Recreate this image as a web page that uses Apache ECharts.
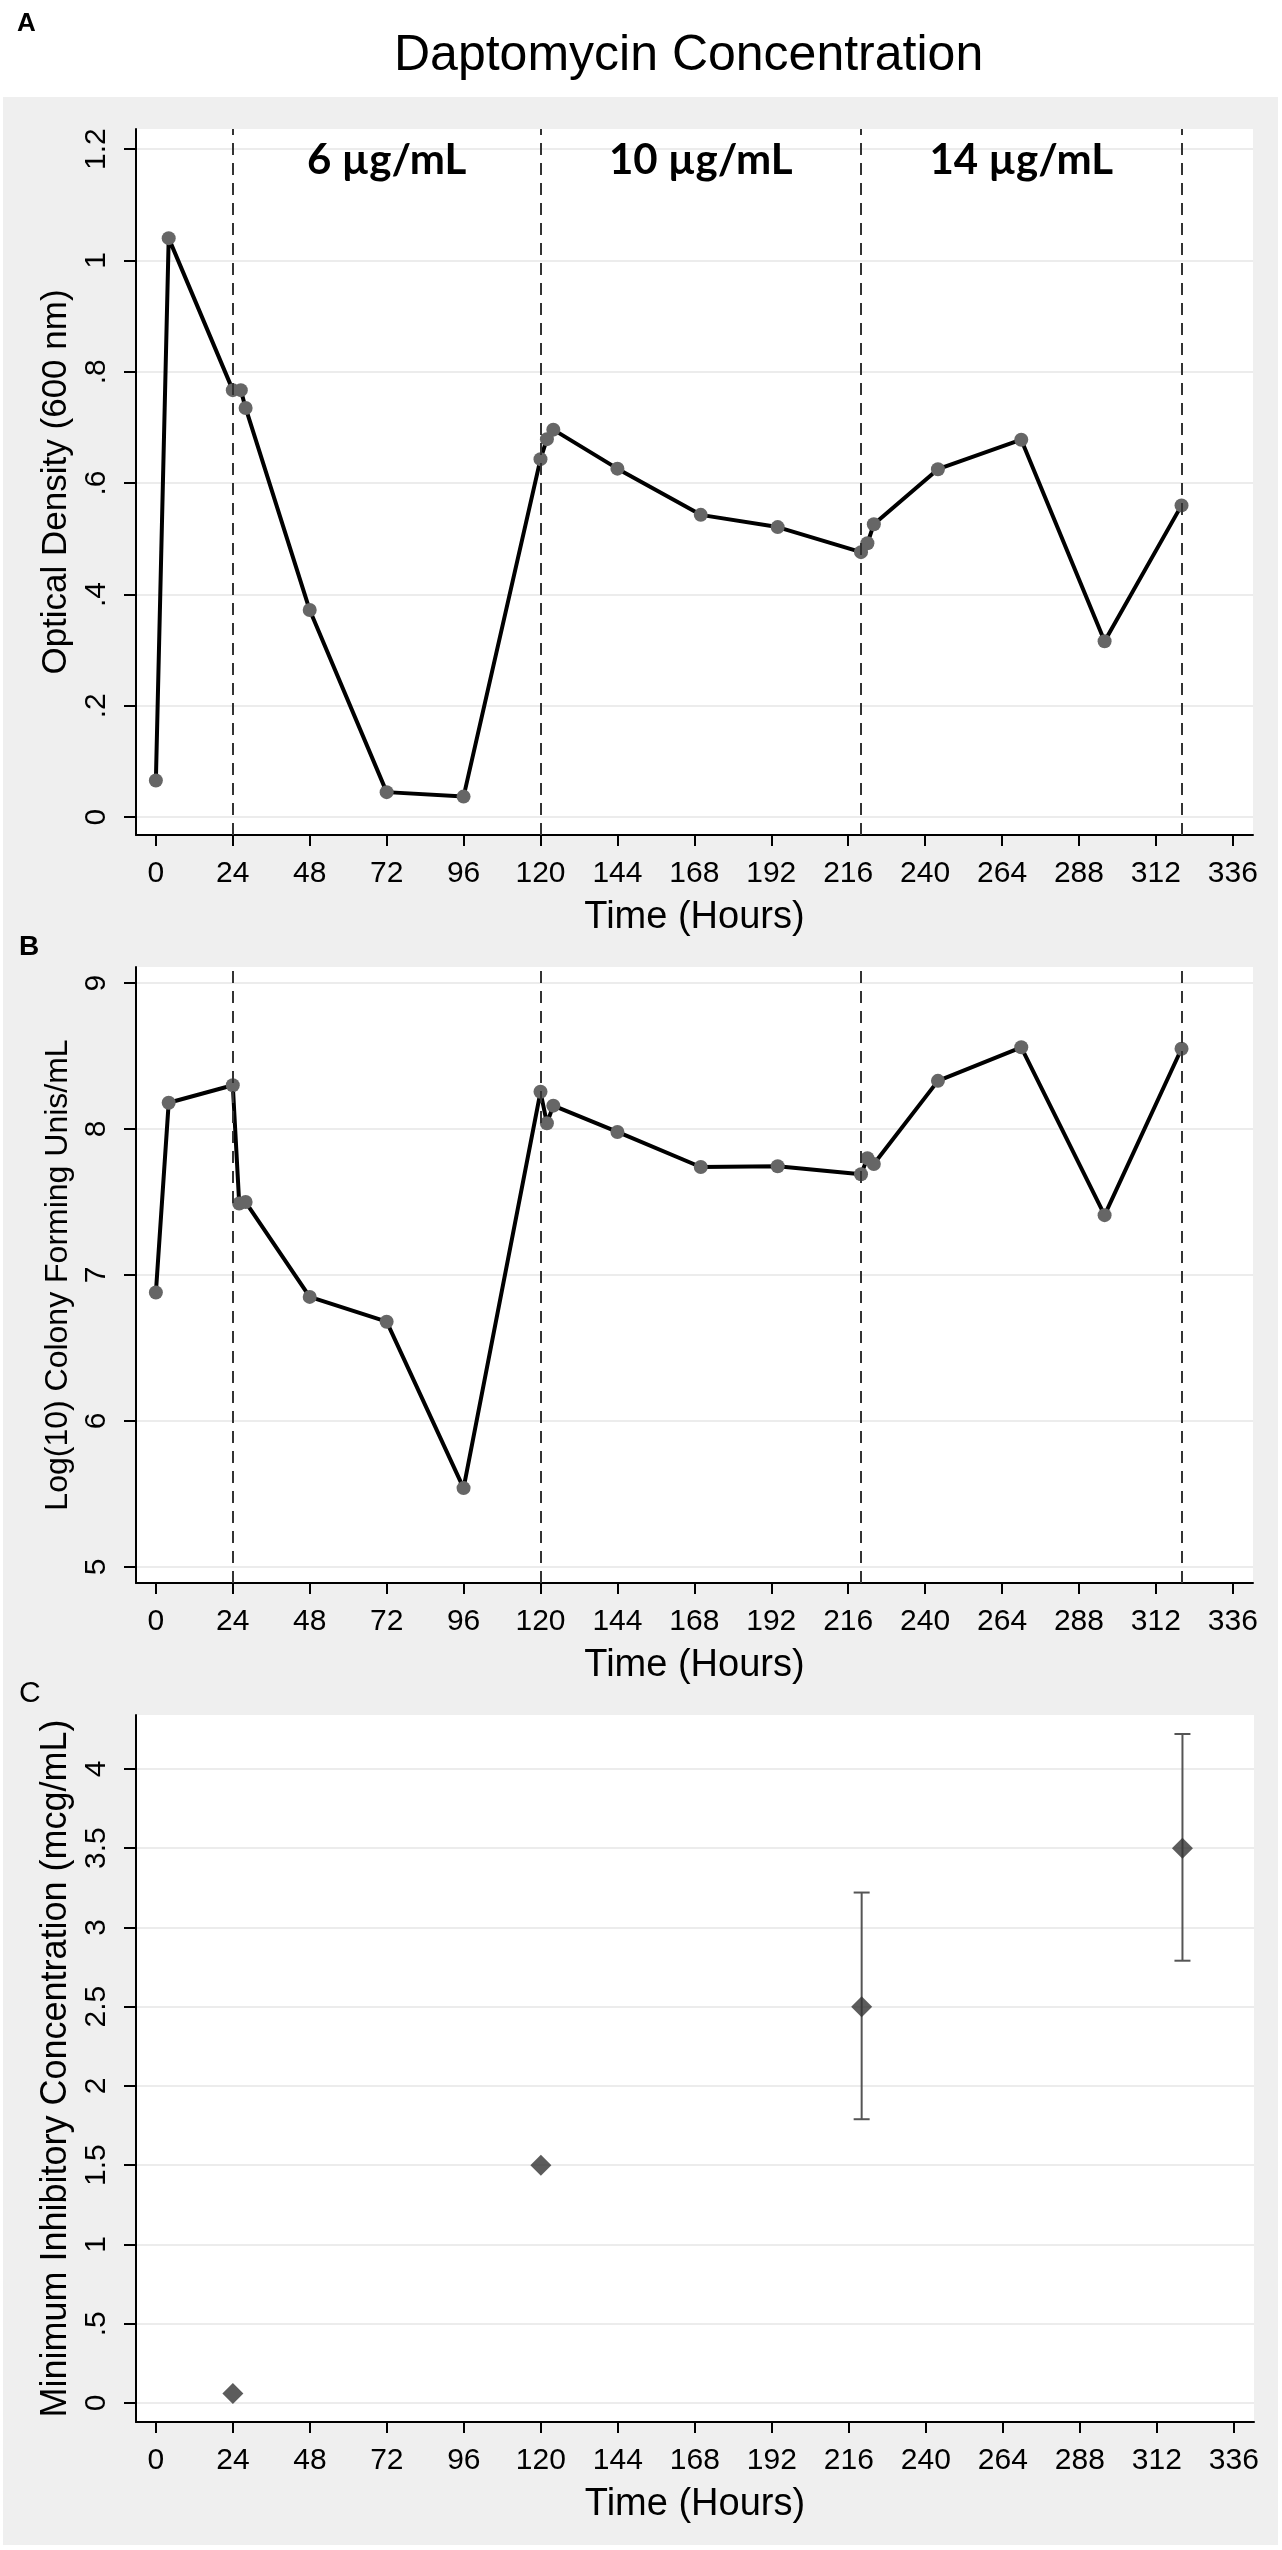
<!DOCTYPE html>
<html>
<head>
<meta charset="utf-8">
<title>Daptomycin Concentration</title>
<script src="https://cdn.jsdelivr.net/npm/echarts@6/dist/echarts.min.js"></script>
<style>
    html, body { margin: 0; padding: 0; background: #fff; }
    #chart { width: 1282px; height: 2550px; }
</style>
</head>
<body>
<div id="chart"></div>
<script>
// panel A: optical density
const timeOD = [0, 4, 24, 26.5, 28, 48, 72, 96, 120, 122, 124, 144, 170, 194, 220, 222, 224, 244, 270, 296, 320];
const opticalDensity = [0.066, 1.04, 0.767, 0.767, 0.735, 0.372, 0.045, 0.037, 0.643, 0.679, 0.696, 0.626, 0.543, 0.521, 0.476, 0.492, 0.526, 0.625, 0.678, 0.316, 0.560];

// panel B: log10 CFU/mL
const timeCFU = [0, 4, 24, 26, 28, 48, 72, 96, 120, 122, 124, 144, 170, 194, 220, 222, 224, 244, 270, 296, 320];
const logCFU = [6.88, 8.18, 8.30, 7.49, 7.50, 6.85, 6.68, 5.54, 8.255, 8.04, 8.16, 7.98, 7.74, 7.745, 7.69, 7.80, 7.76, 8.33, 8.56, 7.41, 8.55];

// panel C: MIC with range
const timeMIC = [24, 120, 220, 320];
const micMean = [0.06, 1.5, 2.5, 3.5];
const micLow = [null, null, 1.79, 2.79];
const micHigh = [null, null, 3.22, 4.22];

// dose changes
const doseChanges = [24, 120, 220, 320];
const doseLabels = ['6 µg/mL', '10 µg/mL', '14 µg/mL'];

// tick labels
const xTicks = [0, 24, 48, 72, 96, 120, 144, 168, 192, 216, 240, 264, 288, 312, 336];
const odTicks = [0, 0.2, 0.4, 0.6, 0.8, 1, 1.2];
const cfuTicks = [5, 6, 7, 8, 9];
const micTicks = [0, 0.5, 1, 1.5, 2, 2.5, 3, 3.5, 4];

const FONT = 'Liberation Sans, Arial, sans-serif';

function trimZero(v) {
    return String(v).replace(/^0\./, '.');
}

function xAxisFor(gridIndex) {
    return {
        type: 'value',
        gridIndex: gridIndex,
        min: -6.2,
        max: 342.3,
        name: 'Time (Hours)',
        nameLocation: 'middle',
        nameGap: 64,
        nameTextStyle: { fontFamily: FONT, fontSize: 38, color: '#000' },
        axisLine: { show: true, onZero: false, lineStyle: { color: '#000', width: 2 } },
        axisTick: { show: true, length: 11, customValues: xTicks, lineStyle: { color: '#000', width: 2 } },
        axisLabel: { customValues: xTicks, fontFamily: FONT, fontSize: 30, color: '#000', margin: 24 },
        splitLine: { show: false }
    };
}

function yAxisFor(gridIndex, name, min, max, ticks, nameSize) {
    return {
        type: 'value',
        gridIndex: gridIndex,
        min: min,
        max: max,
        name: name,
        nameLocation: 'middle',
        nameGap: 56,
        nameRotate: 90,
        nameTextStyle: { fontFamily: FONT, fontSize: nameSize, color: '#000' },
        axisLine: { show: true, onZero: false, lineStyle: { color: '#000', width: 2 } },
        axisTick: { show: true, length: 12, customValues: ticks, lineStyle: { color: '#000', width: 2 } },
        axisLabel: {
            customValues: ticks,
            rotate: 90,
            fontFamily: FONT,
            fontSize: 30,
            color: '#000',
            margin: 24,
            formatter: trimZero
        },
        splitLine: { show: true, lineStyle: { color: '#e6e6e6', width: 1.5 } }
    };
}

function zip(xs, ys) {
    return xs.map(function (x, i) { return [x, ys[i]]; });
}

const doseMarkLine = {
    silent: true,
    symbol: ['none', 'none'],
    label: { show: false },
    lineStyle: { type: [12, 8], color: '#333', width: 2 },
    data: doseChanges.map(function (t) { return { xAxis: t }; })
};

const doseAreas = doseLabels.map(function (txt, i) {
    return [{ xAxis: doseChanges[i], name: txt }, { xAxis: doseChanges[i + 1] }];
});

const errorData = [];
for (let i = 0; i < timeMIC.length; i++) {
    if (micLow[i] !== null) errorData.push([timeMIC[i], micLow[i], micHigh[i]]);
}

const chart = echarts.init(document.getElementById('chart'));
chart.setOption({
    animation: false,
    backgroundColor: '#fff',
    graphic: [{
        type: 'rect',
        left: 3,
        top: 97,
        z: -1,
        shape: { width: 1275, height: 2448 },
        style: { fill: '#efefef' }
    }],
    title: [
        { text: 'Daptomycin Concentration', left: 389, top: 26,
          textStyle: { fontFamily: FONT, fontSize: 50, fontWeight: 'normal', color: '#000' } },
        { text: 'A', left: 12, top: 6,
          textStyle: { fontFamily: FONT, fontSize: 26, fontWeight: 'bold', color: '#000' } },
        { text: 'B', left: 14, top: 928,
          textStyle: { fontFamily: FONT, fontSize: 28, fontWeight: 'bold', color: '#000' } },
        { text: 'C', left: 14, top: 1674,
          textStyle: { fontFamily: FONT, fontSize: 30, fontWeight: 'normal', color: '#000' } }
    ],
    grid: [
        { left: 136, top: 129, width: 1117, height: 706, show: true, backgroundColor: '#fff', borderWidth: 0 },
        { left: 136, top: 967, width: 1117, height: 616, show: true, backgroundColor: '#fff', borderWidth: 0 },
        { left: 136, top: 1715, width: 1118, height: 707, show: true, backgroundColor: '#fff', borderWidth: 0 }
    ],
    xAxis: [xAxisFor(0), xAxisFor(1), xAxisFor(2)],
    yAxis: [
        yAxisFor(0, 'Optical Density (600 nm)', -0.032, 1.236, odTicks, 35),
        yAxisFor(1, 'Log(10) Colony Forming Unis/mL', 4.89, 9.11, cfuTicks, 32),
        yAxisFor(2, 'Minimum Inhibitory Concentration (mcg/mL)', -0.12, 4.34, micTicks, 36)
    ],
    series: [
        {
            name: 'Optical Density',
            type: 'line',
            xAxisIndex: 0,
            yAxisIndex: 0,
            data: zip(timeOD, opticalDensity),
            symbol: 'circle',
            symbolSize: 14,
            itemStyle: { color: '#666' },
            lineStyle: { color: '#000', width: 4 },
            markLine: doseMarkLine,
            markArea: {
                silent: true,
                itemStyle: { color: 'rgba(0,0,0,0)' },
                label: {
                    show: true,
                    position: 'insideTop',
                    distance: 10,
                    fontFamily: 'Lato, "Open Sans", sans-serif',
                    fontWeight: 'bold',
                    fontSize: 42,
                    color: '#000'
                },
                data: doseAreas
            }
        },
        {
            name: 'Log CFU',
            type: 'line',
            xAxisIndex: 1,
            yAxisIndex: 1,
            data: zip(timeCFU, logCFU),
            symbol: 'circle',
            symbolSize: 14,
            itemStyle: { color: '#666' },
            lineStyle: { color: '#000', width: 4 },
            markLine: doseMarkLine
        },
        {
            name: 'MIC range',
            type: 'custom',
            xAxisIndex: 2,
            yAxisIndex: 2,
            data: errorData,
            encode: { x: 0, y: [1, 2] },
            renderItem: function (params, api) {
                const x = api.value(0);
                const lo = api.coord([x, api.value(1)]);
                const hi = api.coord([x, api.value(2)]);
                const half = 8;
                const style = { stroke: '#555', lineWidth: 2 };
                return {
                    type: 'group',
                    children: [
                        { type: 'line', shape: { x1: hi[0], y1: hi[1], x2: lo[0], y2: lo[1] }, style: style },
                        { type: 'line', shape: { x1: hi[0] - half, y1: hi[1], x2: hi[0] + half, y2: hi[1] }, style: style },
                        { type: 'line', shape: { x1: lo[0] - half, y1: lo[1], x2: lo[0] + half, y2: lo[1] }, style: style }
                    ]
                };
            }
        },
        {
            name: 'MIC',
            type: 'scatter',
            xAxisIndex: 2,
            yAxisIndex: 2,
            data: zip(timeMIC, micMean),
            symbol: 'diamond',
            symbolSize: 21,
            itemStyle: { color: '#333' },
            z: 5
        }
    ]
});
</script>
</body>
</html>
